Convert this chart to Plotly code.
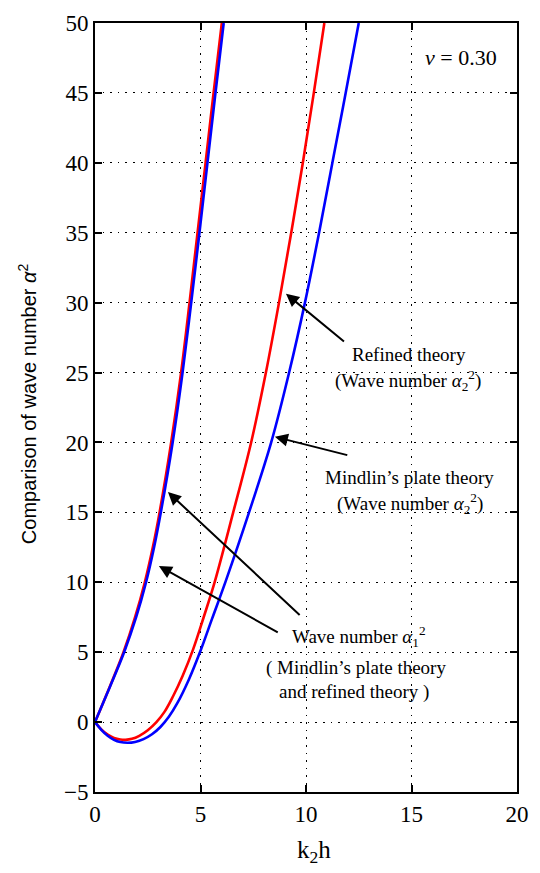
import plotly.graph_objects as go

# ---- data ----
# Wave number alpha_1^2 (Mindlin, blue) and (refined, red)
a1_blue_x = [0, 0.7, 1.38, 1.95, 2.42, 2.8, 3.12, 3.68, 4.15, 4.56, 4.95, 5.33, 5.71, 6.1]
a1_blue_y = [0, 2.5, 5.0, 7.5, 10, 12.5, 15, 20, 25, 30, 35, 40, 45, 50]
a1_red_x = [0, 0.69, 1.35, 1.9, 2.36, 2.74, 3.06, 3.61, 4.08, 4.48, 4.86, 5.24, 5.62, 6.01]
a1_red_y = [0, 2.5, 5.0, 7.5, 10, 12.5, 15, 20, 25, 30, 35, 40, 45, 50]

# Wave number alpha_2^2: refined theory (red)
a2_red_x = [0, 0.3, 0.6, 0.9, 1.2, 1.45, 1.75, 2.1, 2.5, 2.9, 3.3, 3.7, 4.15, 4.65, 5.15, 5.65,
            6.55, 7.4, 8.1, 8.72, 9.3, 9.85, 10.37, 10.87]
a2_red_y = [0, -0.52, -0.9, -1.14, -1.25, -1.27, -1.2, -0.98, -0.58, -0.02, 0.75, 1.85, 3.3, 5.2, 7.5, 9.9,
            15, 20, 25, 30, 35, 40, 45, 50]

# Wave number alpha_2^2: Mindlin's plate theory (blue)
a2_blue_x = [0, 0.3, 0.6, 0.9, 1.2, 1.55, 1.9, 2.3, 2.7, 3.1, 3.5, 3.9, 4.45, 5.0, 5.55,
             6.2, 7.3, 8.35, 9.2, 9.95, 10.62, 11.25, 11.88, 12.5]
a2_blue_y = [0, -0.55, -0.98, -1.27, -1.43, -1.48, -1.42, -1.22, -0.87, -0.35, 0.38, 1.35, 3.05, 5.1, 7.4,
             10.1, 15, 20, 25, 30, 35, 40, 45, 50]

x_ticks = [0, 5, 10, 15, 20]
y_ticks = [-5, 0, 5, 10, 15, 20, 25, 30, 35, 40, 45, 50]

RED = "#ff0000"
BLUE = "#0000ff"
SERIF = "Liberation Serif"
LW = 2.6

fig = go.Figure()
for xs, ys, c in [(a1_red_x, a1_red_y, RED), (a1_blue_x, a1_blue_y, BLUE),
                  (a2_red_x, a2_red_y, RED), (a2_blue_x, a2_blue_y, BLUE)]:
    fig.add_trace(go.Scatter(x=xs, y=ys, mode="lines",
                             line=dict(color=c, width=LW, shape="spline", smoothing=1.0),
                             showlegend=False, hoverinfo="skip", cliponaxis=True))

axis_common = dict(
    showline=True, linecolor="black", linewidth=2, mirror="allticks",
    ticks="inside", ticklen=7, tickwidth=2, tickcolor="black",
    showgrid=True, gridcolor="black", gridwidth=1.4, griddash="1.6px,6px",
    zeroline=False,
    tickfont=dict(family=SERIF, size=23, color="black"),
)

fig.update_layout(
    width=540, height=873,
    margin=dict(l=95, r=11, t=13, b=81),
    paper_bgcolor="white", plot_bgcolor="white",
    xaxis=dict(range=[0, 20], tickvals=x_ticks, **axis_common),
    yaxis=dict(range=[-5, 50], tickvals=y_ticks, **axis_common),
    showlegend=False,
)

ann = []
# axis titles
ann.append(dict(xref="paper", yref="paper", x=(25 - 95) / 434, y=(792 - 398) / 779.3,
                text="Comparison of wave number <i>α</i><sup>2</sup>", textangle=-90,
                showarrow=False, font=dict(family="Liberation Sans", size=20, color="black"),
                xanchor="center", yanchor="middle"))
ann.append(dict(xref="paper", yref="paper", x=(320 - 95) / 434, y=(792 - 852) / 779.3,
                text="k<sub>2</sub>h", showarrow=False,
                font=dict(family=SERIF, size=25, color="black"),
                xanchor="center", yanchor="middle"))


def px2data(px, py):
    return (px - 95) / 21.7, (792 - py) / 14.17 - 5


def label(px, py, text, size=19):
    x, y = px2data(px, py)
    ann.append(dict(xref="x", yref="y", x=x, y=y, text=text, showarrow=False,
                    font=dict(family=SERIF, size=size, color="black"),
                    xanchor="center", yanchor="middle"))


def arrow(head, tail):
    hx, hy = px2data(*head)
    tx, ty = px2data(*tail)
    ann.append(dict(xref="x", yref="y", x=hx, y=hy, axref="x", ayref="y", ax=tx, ay=ty,
                    text="", showarrow=True, arrowhead=2, arrowsize=1.3, arrowwidth=2,
                    arrowcolor="black", standoff=0, startstandoff=0))


label(471, 48, "<i>ν</i> = 0.30", 22)
label(418, 349, "Refined theory")
label(417, 375, "(Wave number <i>α</i><sub>2</sub><sup>2</sup>)")
label(418, 473, "Mindlin’s plate theory")
label(419, 500, "(Wave number <i>α</i><sub>2</sub><sup>2</sup>)")
label(366, 634, "Wave number <i>α</i><sub>1</sub><sup>2</sup>")
label(363, 666, "( Mindlin’s plate theory")
label(361, 691, "and refined theory )")

arrow((291.4, 287), (352.6, 336.7))
arrow((280, 432), (356, 451))
arrow((160.7, 563), (284.5, 631))
arrow((170, 488), (307, 614))

fig.update_layout(annotations=ann)
fig.write_html("out.html", config={"displayModeBar": False})
